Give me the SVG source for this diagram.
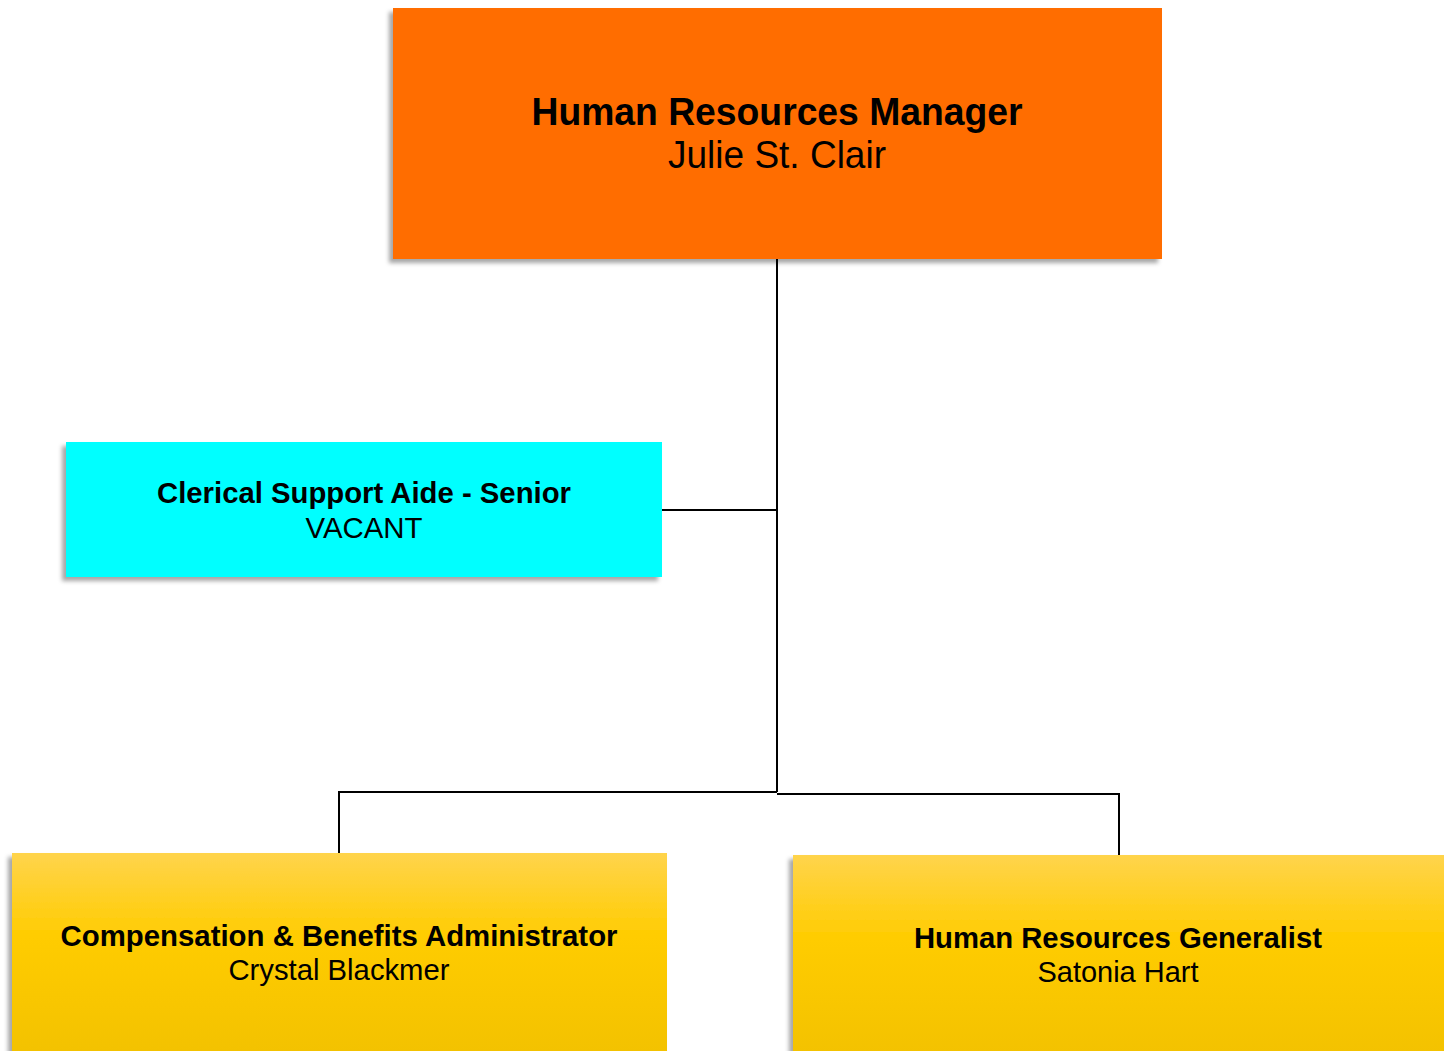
<svg xmlns="http://www.w3.org/2000/svg" width="1450" height="1051" viewBox="0 0 1450 1051">
<defs>
<filter id="sh" x="-5%" y="-5%" width="110%" height="115%">
<feDropShadow dx="-4" dy="4" stdDeviation="2" flood-color="#000" flood-opacity="0.35"/>
</filter>
<linearGradient id="yel" x1="0" y1="0" x2="0" y2="1">
<stop offset="0" stop-color="#FFD44C"/>
<stop offset="0.4" stop-color="#FFCC00"/>
<stop offset="1" stop-color="#F2C100"/>
</linearGradient>
</defs>
<style>
text{font-family:"Liberation Sans",Arial,sans-serif;fill:#000;text-anchor:middle}
.t{font-weight:bold}
.line{fill:none;stroke:#000;stroke-width:2}
</style>
<rect width="1450" height="1051" fill="#fff"/>
<g id="connectors">
<path class="line" d="M777 259 V792" stroke-width="2.5"/>
<path class="line" d="M662 510 H777"/>
<path class="line" d="M339 853 V792 H777"/>
<path class="line" d="M777 794 H1119 V855"/>
</g>
<g id="manager">
<rect x="393" y="8" width="769" height="251" fill="#FF6D00" filter="url(#sh)"/>
<text class="t" x="777" y="125" font-size="38.5" textLength="491" lengthAdjust="spacingAndGlyphs">Human Resources Manager</text>
<text x="777" y="168" font-size="38.5" textLength="218" lengthAdjust="spacingAndGlyphs">Julie St. Clair</text>
</g>
<g id="clerical">
<rect x="66" y="442" width="596" height="135" fill="#00FFFF" filter="url(#sh)"/>
<text class="t" x="364" y="503" font-size="29" textLength="414" lengthAdjust="spacingAndGlyphs">Clerical Support Aide - Senior</text>
<text x="364" y="538" font-size="29" textLength="117" lengthAdjust="spacingAndGlyphs">VACANT</text>
</g>
<g id="compensation">
<rect x="12" y="853" width="655" height="210" fill="url(#yel)" filter="url(#sh)"/>
<text class="t" x="339" y="946" font-size="29" textLength="557" lengthAdjust="spacingAndGlyphs">Compensation &amp; Benefits Administrator</text>
<text x="339" y="980" font-size="29" textLength="221" lengthAdjust="spacingAndGlyphs">Crystal Blackmer</text>
</g>
<g id="generalist">
<rect x="793" y="855" width="651" height="210" fill="url(#yel)" filter="url(#sh)"/>
<text class="t" x="1118" y="948" font-size="29" textLength="408" lengthAdjust="spacingAndGlyphs">Human Resources Generalist</text>
<text x="1118" y="982" font-size="29" textLength="161" lengthAdjust="spacingAndGlyphs">Satonia Hart</text>
</g>
</svg>
